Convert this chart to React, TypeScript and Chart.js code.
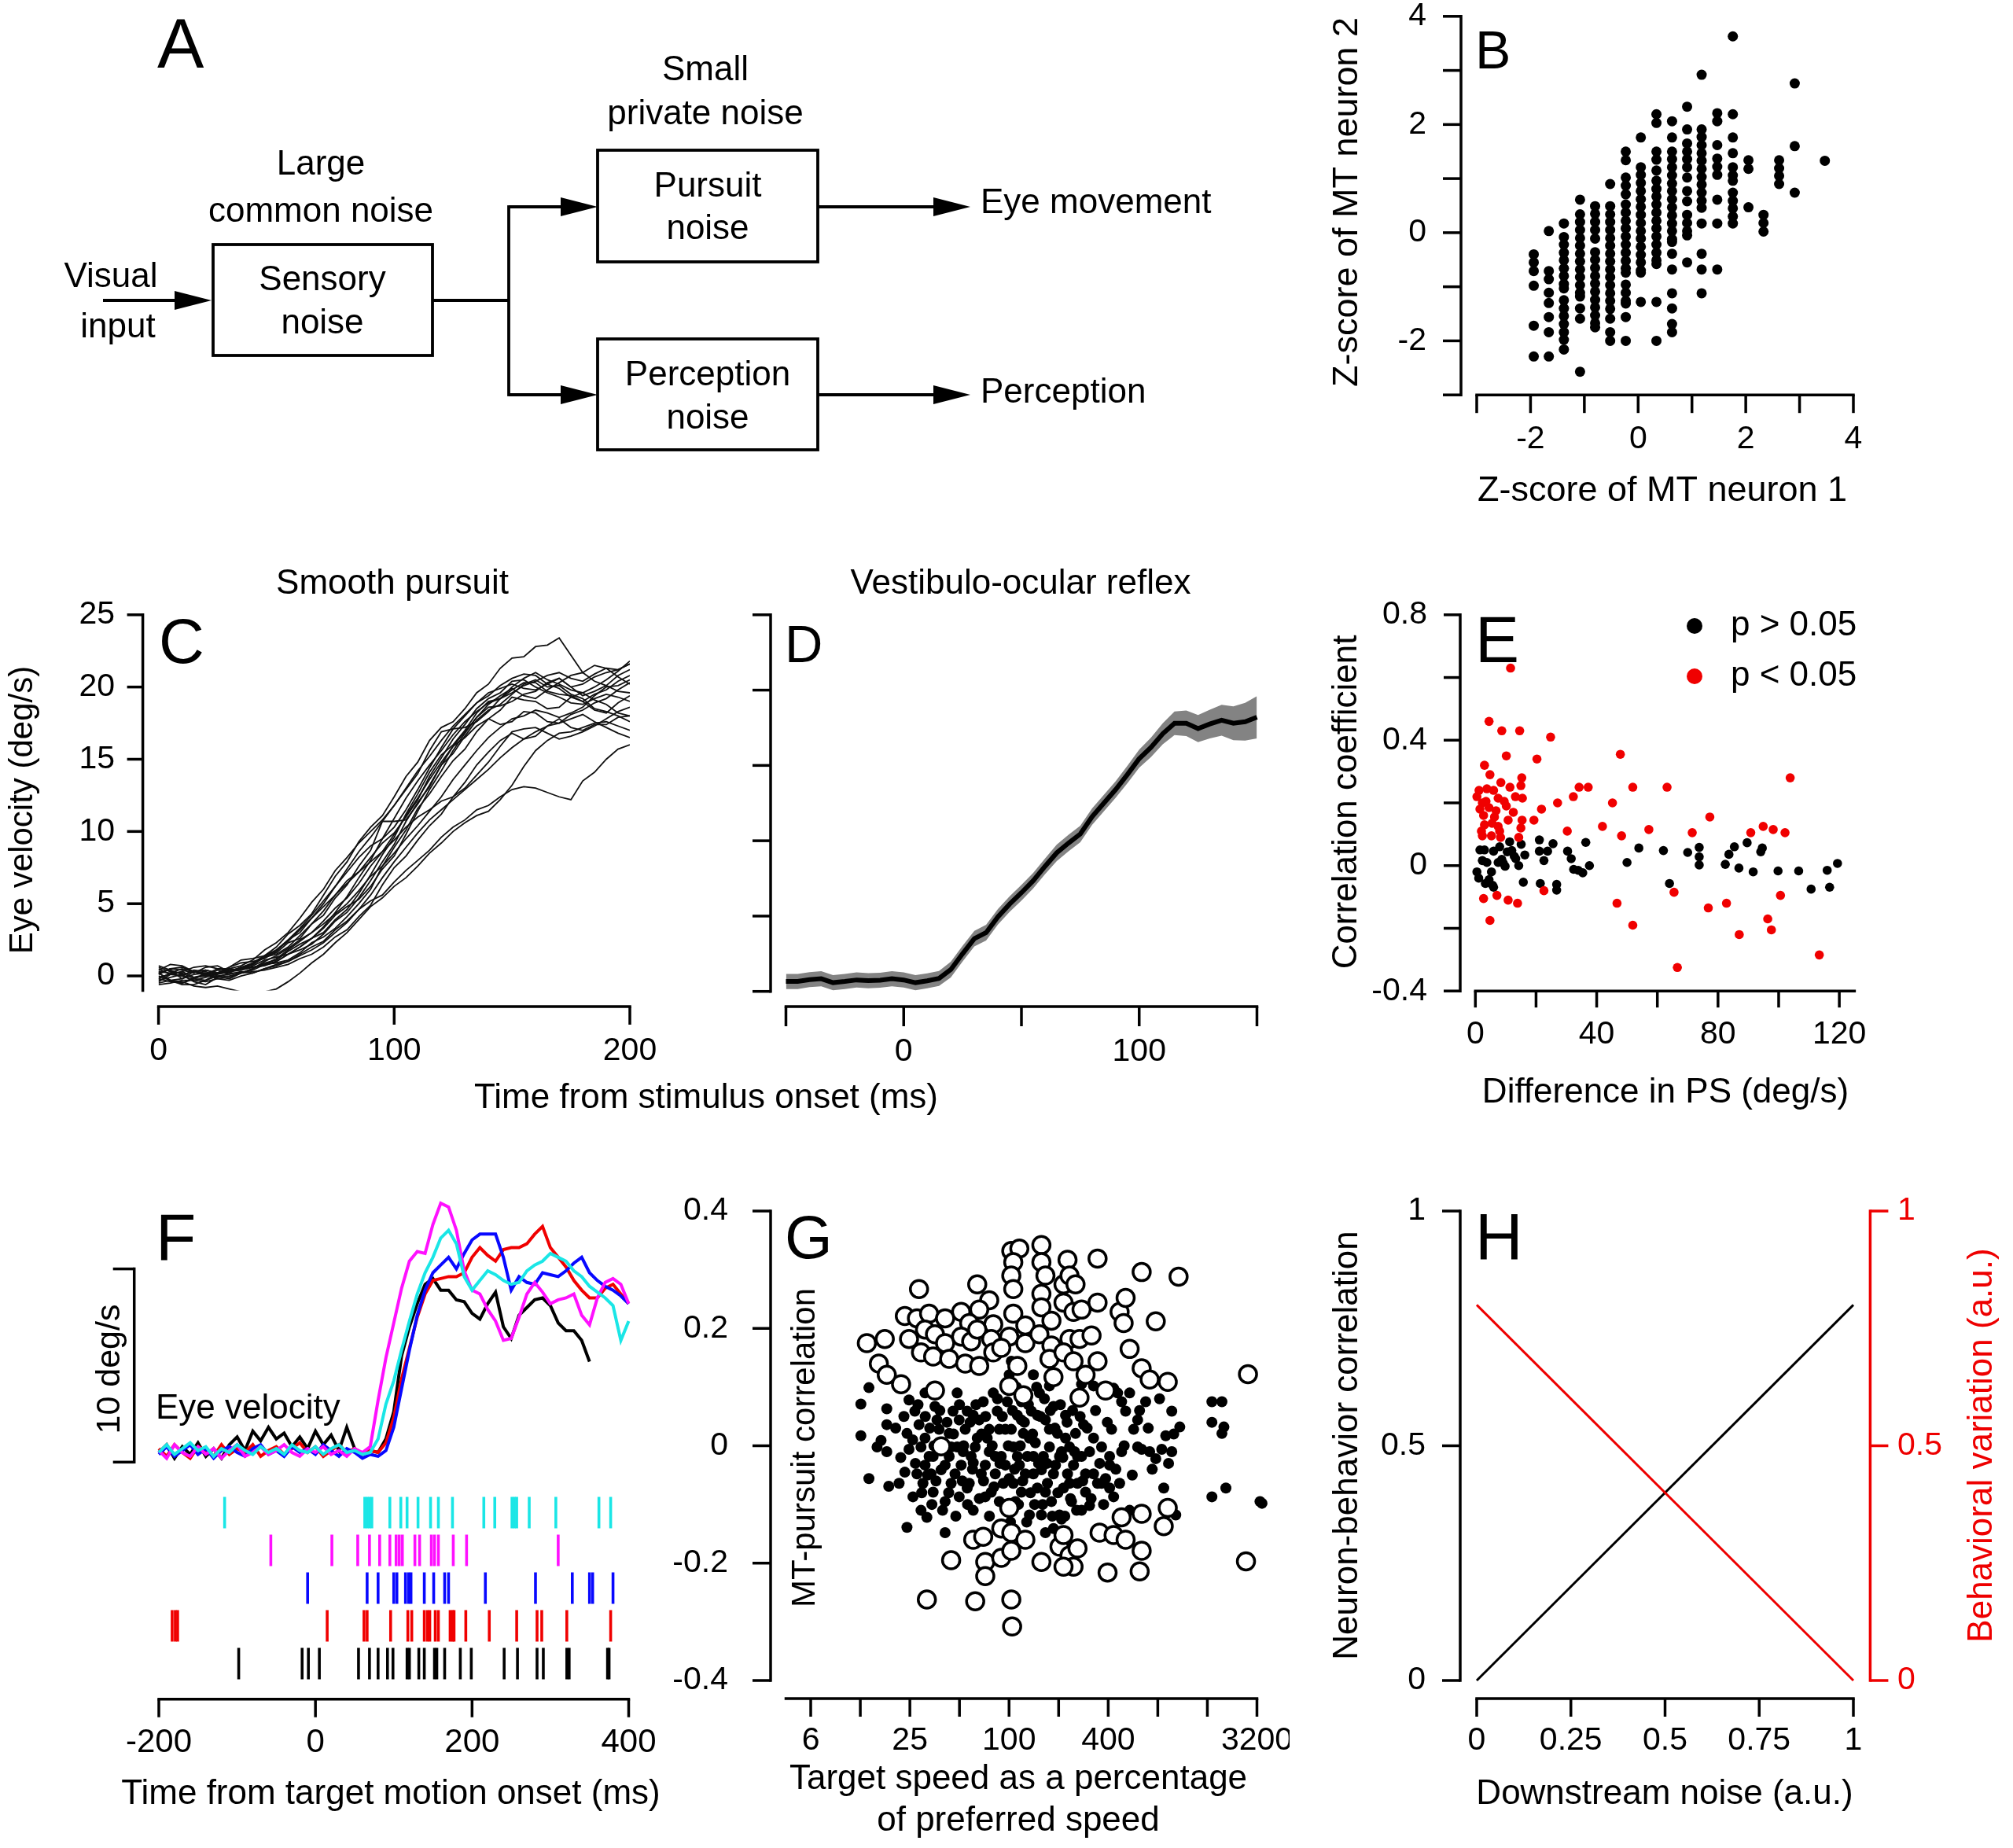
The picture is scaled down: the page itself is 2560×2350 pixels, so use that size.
import React, { useEffect, useRef } from 'react';
import { Chart, registerables } from 'chart.js';

Chart.register(...registerables);

const FONT = '"Liberation Sans", Arial, Helvetica, sans-serif';
const RED = '#f00000';
const CYAN = '#1ae6e6';
const MAGENTA = '#ff10ff';
const BLUE = '#0808ff';
const ROT = -Math.PI / 2;

// ---------------- Panel B: Z-scores (columns of quantised values) ----------------
const bColX = [-1.94, -1.66, -1.38, -1.08, -0.8, -0.52, -0.23, 0.05, 0.34, 0.63, 0.91, 1.18, 1.47, 1.76, 2.05, 2.33, 2.62, 2.91, 3.47];
const bColY = [
  [-0.4, -0.55, -0.71, -0.98, -1.72, -2.29],
  [0.03, -0.71, -0.86, -1.11, -1.3, -1.56, -1.84, -2.29],
  [0.17, -0.08, -0.22, -0.37, -0.51, -0.66, -0.8, -0.95, -1.03, -1.25, -1.4, -1.54, -1.69, -1.84, -1.98, -2.16],
  [0.61, 0.34, 0.2, 0.05, -0.1, -0.24, -0.39, -0.53, -0.68, -0.82, -0.97, -1.11, -1.18, -1.4, -1.59, -2.57],
  [0.49, 0.35, 0.2, 0.05, -0.11, -0.36, -0.5, -0.65, -0.8, -0.94, -1.09, -1.24, -1.38, -1.53, -1.67, -1.75],
  [0.9, 0.49, 0.34, 0.2, 0.05, -0.1, -0.24, -0.39, -0.53, -0.68, -0.82, -0.97, -1.12, -1.26, -1.41, -1.59, -1.84, -2.0],
  [1.5, 1.34, 1.02, 0.87, 0.71, 0.52, 0.37, 0.22, 0.08, -0.07, -0.22, -0.37, -0.52, -0.66, -0.74, -0.96, -1.11, -1.26, -1.31, -1.56, -2.0],
  [1.76, 1.21, 1.07, 0.92, 0.77, 0.62, 0.48, 0.33, 0.18, 0.03, -0.11, -0.26, -0.41, -0.55, -0.7, -0.74, -1.28],
  [2.19, 2.03, 1.5, 1.35, 1.15, 0.96, 0.81, 0.67, 0.52, 0.37, 0.22, 0.08, -0.07, -0.22, -0.37, -0.51, -0.58, -1.28, -2.0],
  [2.06, 1.76, 1.5, 1.36, 1.21, 1.06, 0.91, 0.77, 0.62, 0.47, 0.32, 0.17, 0.03, -0.12, -0.17, -0.39, -0.68, -1.12, -1.4, -1.69, -1.84],
  [2.33, 1.91, 1.65, 1.5, 1.36, 1.21, 1.02, 0.77, 0.58, 0.33, 0.18, 0.03, -0.05, -0.55],
  [2.92, 1.91, 1.77, 1.62, 1.47, 1.33, 1.18, 1.03, 0.89, 0.74, 0.59, 0.46, 0.17, -0.39, -0.68, -1.12],
  [2.21, 2.06, 1.62, 1.37, 1.22, 1.07, 0.61, 0.17, -0.68],
  [3.63, 2.19, 1.76, 1.47, 1.21, 1.06, 0.96, 0.74, 0.59, 0.45, 0.3, 0.17],
  [1.34, 1.18, 0.47],
  [0.33, 0.18, 0.02],
  [1.34, 1.19, 1.05, 0.9],
  [2.76, 1.6, 0.74],
  [1.33],
];
const bTicks = [-3, -2, -1, 0, 1, 2, 3, 4];
const bLabels = [-2, 0, 2, 4];

// ---------------- Panel C: smooth pursuit single trials ----------------
const cTime = [0, 5, 10, 15, 20, 25, 30, 35, 40, 45, 50, 55, 60, 65, 70, 75, 80, 85, 90, 95, 100, 105, 110, 115, 120, 125, 130, 135, 140, 145, 150, 155, 160, 165, 170, 175, 180, 185, 190, 195, 200];
const cTraces = [
  [0.3, 0.4, -0.2, 0.3, 0.4, 0.2, 0.6, 1.1, 1.2, 1.4, 2.0, 2.9, 3.5, 4.3, 5.6, 6.9, 7.9, 9.3, 10.3, 11.1, 12.4, 13.8, 14.8, 16.3, 17.2, 17.6, 18.5, 19.6, 20.2, 21.3, 22.0, 22.1, 22.8, 22.9, 23.4, 22.2, 21.0, 21.5, 21.3, 21.2, 21.6],
  [0.6, 0.3, 0.2, -0.2, -0.3, 0.2, 0.4, 0.5, 0.9, 1.4, 1.6, 2.3, 2.6, 3.6, 4.2, 5.4, 6.3, 7.6, 8.7, 10.7, 10.7, 10.8, 11.9, 13.2, 14.6, 15.9, 16.5, 17.3, 17.8, 17.4, 17.6, 18.3, 18.2, 17.6, 17.5, 18.1, 18.4, 18.9, 19.2, 19.8, 20.3],
  [-0.4, 0.1, 0.3, -0.1, 0.1, 0.5, 0.5, 0.4, 0.7, 1.1, 1.3, 1.5, 2.0, 2.6, 3.0, 3.9, 4.6, 5.7, 7.0, 8.4, 9.6, 11.2, 12.6, 14.1, 15.3, 16.0, 17.0, 18.2, 19.0, 19.2, 19.8, 20.3, 20.3, 19.7, 19.5, 19.4, 19.0, 19.5, 19.8, 20.4, 20.8],
  [0.2, -0.3, -0.5, -0.1, 0.0, 0.4, 0.3, 0.6, 0.6, 0.7, 1.0, 1.5, 1.8, 2.2, 2.9, 3.8, 4.4, 5.4, 6.6, 7.9, 9.1, 10.7, 12.0, 13.1, 14.6, 15.4, 16.6, 17.7, 18.4, 18.8, 19.5, 20.2, 20.5, 20.0, 20.1, 19.5, 19.2, 18.5, 18.3, 18.0, 17.6],
  [-0.3, -0.1, 0.1, -0.4, -0.6, -0.1, 0.2, 0.2, 0.5, 0.9, 1.1, 1.7, 2.2, 2.6, 3.3, 4.2, 4.8, 5.3, 6.2, 7.4, 8.3, 9.8, 11.4, 12.9, 14.2, 15.6, 16.8, 17.9, 18.6, 18.7, 19.0, 19.5, 19.7, 20.3, 20.6, 20.0, 20.2, 20.7, 21.0, 21.2, 21.6],
  [0.5, 0.1, 0.0, 0.4, 0.3, 0.0, -0.2, 0.2, 0.4, 0.8, 0.9, 1.1, 1.6, 2.3, 2.7, 3.3, 4.1, 5.0, 6.0, 7.6, 8.9, 10.1, 11.6, 12.6, 13.8, 14.9, 15.7, 16.9, 17.8, 18.4, 19.3, 19.1, 19.0, 18.5, 18.6, 19.3, 19.6, 19.1, 18.8, 18.2, 18.0],
  [-0.5, -0.3, -0.2, 0.1, 0.2, -0.1, 0.0, 0.2, 0.3, 0.4, 0.6, 0.8, 1.2, 1.5, 2.0, 2.7, 3.2, 4.1, 4.9, 6.3, 7.5, 8.3, 9.4, 10.4, 11.2, 12.4, 13.4, 14.6, 15.5, 16.3, 16.8, 16.4, 16.6, 17.3, 17.8, 17.2, 17.0, 17.4, 17.4, 17.9, 18.0],
  [0.2, -0.3, -0.6, -0.6, -0.3, 0.0, 0.1, 0.3, 0.2, 0.5, 0.8, 1.0, 1.5, 2.0, 2.4, 3.2, 3.8, 4.6, 5.2, 5.6, 6.5, 7.3, 8.0, 8.7, 9.6, 10.3, 10.8, 11.5, 11.8, 12.4, 12.9, 13.1, 13.0, 12.7, 12.4, 12.2, 13.5, 14.1, 15.0, 15.7, 16.0],
  [0.1, 0.5, 0.4, 0.2, 0.6, 0.7, 0.3, 0.5, 0.8, 1.3, 1.5, 2.0, 2.8, 3.6, 4.5, 5.6, 6.6, 7.2, 8.2, 9.2, 9.9, 11.0, 12.2, 13.8, 15.1, 16.4, 17.4, 18.5, 19.2, 19.6, 20.4, 20.5, 20.0, 19.6, 19.3, 18.9, 18.8, 19.2, 19.5, 19.3, 19.0],
  [-0.2, 0.2, 0.5, 0.3, 0.0, 0.2, 0.6, 0.9, 1.0, 1.2, 1.7, 2.5, 3.0, 4.0, 5.0, 6.2, 7.2, 8.2, 9.0, 9.5, 10.3, 11.5, 12.9, 14.4, 15.8, 17.1, 18.0, 18.9, 19.4, 20.1, 20.6, 20.9, 20.8, 20.2, 19.9, 19.3, 19.0, 18.4, 18.2, 18.9, 19.4],
  [0.4, 0.8, 0.7, 0.3, 0.2, 0.2, 0.5, 0.7, 1.1, 1.8, 2.3, 3.0, 4.0, 5.1, 6.0, 7.3, 8.2, 9.2, 10.0, 10.8, 11.8, 12.9, 14.0, 15.6, 16.9, 17.1, 17.2, 17.6, 18.3, 19.2, 20.0, 20.6, 21.0, 20.5, 20.2, 19.8, 19.6, 20.0, 20.5, 21.1, 21.8],
  [-0.6, -0.5, -0.3, -0.3, -0.1, 0.2, 0.3, 0.4, 0.6, 0.8, 1.2, 1.8, 2.4, 3.0, 3.8, 4.7, 5.4, 6.4, 7.6, 8.6, 9.8, 11.1, 12.3, 13.6, 14.8, 15.9, 16.9, 17.9, 18.8, 19.4, 19.9, 19.4, 19.2, 19.8, 20.3, 20.8, 21.0, 20.4, 20.1, 19.7, 19.6],
  [0.0, -0.3, -0.4, -0.7, -0.8, -0.7, -0.9, -1.1, -1.2, -1.1, -0.9, -0.4, 0.2, 0.9, 1.5, 2.3, 3.0, 3.9, 4.8, 5.4, 6.2, 6.8, 7.6, 8.5, 9.2, 10.0, 10.6, 11.1, 11.4, 12.2, 13.2, 14.5, 15.6, 16.3, 16.8, 16.9, 17.2, 17.5, 17.6, 17.3, 17.0],
  [0.3, 0.2, 0.0, -0.3, -0.4, -0.2, -0.1, 0.2, 0.5, 1.0, 1.4, 1.9, 2.5, 3.0, 3.6, 4.3, 5.0, 5.9, 6.9, 7.6, 8.5, 9.5, 10.4, 11.4, 12.4, 13.6, 14.6, 15.6, 16.5, 17.2, 17.8, 18.0, 18.4, 18.2, 17.9, 18.2, 18.6, 19.4, 20.0, 20.1, 20.5],
  [0.7, 0.4, 0.1, 0.3, 0.4, 0.2, 0.2, 0.6, 0.9, 1.4, 1.8, 2.4, 3.2, 4.0, 4.8, 5.6, 6.4, 7.2, 7.9, 8.6, 9.4, 10.3, 11.0, 11.5, 12.1, 12.4, 13.0, 13.9, 14.8, 15.9, 16.9, 17.1, 17.2, 16.8, 16.4, 16.6, 16.9, 17.3, 17.8, 18.3, 18.6],
  [-0.1, 0.1, 0.3, 0.6, 0.7, 0.5, 0.4, 0.5, 0.6, 0.8, 1.0, 1.5, 2.0, 2.6, 3.4, 4.4, 5.5, 6.8, 8.0, 9.5, 10.9, 12.3, 13.5, 14.6, 15.6, 16.7, 17.6, 18.3, 18.9, 19.2, 19.6, 20.1, 20.4, 20.8, 21.0, 20.6, 20.4, 20.9, 21.3, 20.7, 20.2],
  [0.2, 0.5, 0.6, 0.3, 0.1, 0.1, 0.3, 0.6, 0.8, 1.3, 1.8, 2.5, 3.3, 4.2, 5.2, 6.2, 7.4, 8.6, 9.6, 10.7, 11.8, 13.0, 14.2, 15.2, 16.3, 17.3, 18.1, 18.9, 19.6, 19.9, 20.2, 19.9, 19.8, 20.2, 20.6, 20.0, 19.4, 19.7, 20.1, 20.8, 21.2],
  [-0.2, -0.4, -0.5, -0.2, 0.1, -0.2, -0.3, 0.0, 0.2, 0.5, 0.7, 1.0, 1.4, 1.8, 2.3, 3.0, 3.7, 4.6, 5.6, 6.8, 7.9, 8.9, 9.9, 10.8, 11.5, 12.2, 12.9, 13.6, 14.3, 15.1, 15.8, 16.4, 16.9, 17.3, 17.5, 17.8, 18.1, 17.6, 17.2, 16.8, 16.5],
];
const cYTicks = [0, 5, 10, 15, 20, 25];
const cXTicks = [0, 100, 200];

// ---------------- Panel D: VOR mean +/- SEM ----------------
const dTime = [-50, -45, -40, -35, -30, -25, -20, -15, -10, -5, 0, 5, 10, 15, 20, 25, 30, 35, 40, 45, 50, 55, 60, 65, 70, 75, 80, 85, 90, 95, 100, 105, 110, 115, 120, 125, 130, 135, 140, 145, 150];
const dMean = [0.66, 0.66, 0.78, 0.84, 0.58, 0.66, 0.76, 0.71, 0.74, 0.84, 0.76, 0.58, 0.7, 0.86, 1.45, 2.5, 3.5, 3.9, 4.95, 5.8, 6.55, 7.35, 8.3, 9.2, 9.85, 10.45, 11.6, 12.5, 13.4, 14.4, 15.45, 16.2, 17.1, 17.8, 17.8, 17.45, 17.75, 18.0, 17.8, 17.9, 18.2];
const dSem = [0.5, 0.5, 0.5, 0.5, 0.5, 0.5, 0.5, 0.5, 0.5, 0.5, 0.5, 0.5, 0.5, 0.5, 0.52, 0.52, 0.52, 0.52, 0.52, 0.52, 0.52, 0.52, 0.52, 0.55, 0.55, 0.55, 0.55, 0.55, 0.55, 0.58, 0.6, 0.65, 0.7, 0.78, 0.85, 0.9, 0.95, 1.02, 1.12, 1.25, 1.4];
const dYTicks = [0, 5, 10, 15, 20, 25];
const dXTicks = [-50, 0, 50, 100, 150];

// ---------------- Panel E: correlation vs difference in PS ----------------
const eRed: [number, number][] = [
  [11.6, 0.63], [4.5, 0.46], [8.7, 0.43], [14.6, 0.43], [24.8, 0.41], [10.2, 0.35], [20.3, 0.34], [47.8, 0.355], [3.0, 0.32], [4.8, 0.29],
  [15.3, 0.28], [103.8, 0.28], [8.4, 0.265], [11.4, 0.25], [15.0, 0.255], [3.8, 0.245], [6.0, 0.24], [34.2, 0.25], [37.2, 0.25], [51.9, 0.25],
  [63.2, 0.25], [32.3, 0.22], [0.5, 0.22], [2.3, 0.2], [7.5, 0.215], [13.2, 0.22], [15.5, 0.215], [27.1, 0.2], [45.2, 0.2], [1.5, 0.18],
  [4.5, 0.185], [10.2, 0.19], [21.8, 0.18], [2.7, 0.16], [6.3, 0.155], [10.8, 0.145], [15.4, 0.145], [19.3, 0.145], [77.3, 0.155], [3.0, 0.13],
  [7.5, 0.125], [15.0, 0.12], [41.9, 0.125], [57.2, 0.115], [30.3, 0.11], [71.5, 0.105], [90.8, 0.105], [94.9, 0.125], [98.2, 0.115], [102.1, 0.105],
  [2.3, 0.095], [5.3, 0.095], [8.3, 0.09], [14.3, 0.09], [48.2, 0.095], [1.2, 0.24], [3.5, 0.205], [6.8, 0.175], [9.5, 0.205], [12.5, 0.17],
  [5.5, 0.135], [8.0, 0.11], [2.0, 0.11],
  [2.7, -0.105], [7.1, -0.095], [10.8, -0.11], [13.9, -0.12], [4.8, -0.175], [22.6, -0.08], [46.7, -0.12], [51.9, -0.19], [65.5, -0.085], [66.6, -0.325],
  [76.8, -0.135], [82.8, -0.12], [87.0, -0.22], [96.4, -0.17], [97.6, -0.205], [100.6, -0.095], [113.4, -0.285],
];
const eBlack: [number, number][] = [
  [0.5, -0.02], [1.1, -0.04], [2.3, 0.016], [3.0, 0.05], [4.5, -0.045], [5.7, -0.063], [5.3, -0.02], [3.8, 0.01], [6.0, 0.046], [7.5, 0.01],
  [8.7, 0.02], [9.8, -0.002], [10.5, 0.044], [11.3, 0.076], [12.0, 0.048], [13.3, 0.022], [14.3, 0.0], [15.1, 0.068], [16.3, 0.034], [15.8, -0.053],
  [21.1, 0.082], [21.1, 0.046], [22.6, 0.016], [23.8, 0.046], [25.6, 0.07], [21.4, -0.057], [26.8, -0.06], [26.8, -0.078], [30.4, 0.046], [31.6, 0.022],
  [32.4, -0.012], [33.9, -0.015], [35.4, -0.023], [36.4, 0.074], [37.6, 0.0], [50.0, 0.01], [53.9, 0.056], [62.0, 0.048], [64.0, -0.057], [70.0, 0.042],
  [73.8, 0.058], [73.8, 0.028], [73.8, 0.002], [82.4, 0.004], [83.6, 0.036], [85.4, 0.06], [86.9, -0.008], [89.6, 0.073], [91.6, -0.02], [94.1, 0.044],
  [94.6, 0.056], [99.8, -0.017], [106.6, -0.017], [110.7, -0.075], [116.0, -0.015], [116.8, -0.069], [119.4, 0.007], [3.3, -0.057], [6.0, -0.069], [1.5, 0.05],
  [8.0, 0.06], [12.8, 0.03], [9.2, 0.008],
];
const eYTicks = [-0.4, -0.2, 0, 0.2, 0.4, 0.6, 0.8];
const eYLabels: [number, string][] = [[0.8, '0.8'], [0.4, '0.4'], [0, '0'], [-0.4, '-0.4']];
const eXTicks = [0, 20, 40, 60, 80, 100, 120];
const eXLabels = [0, 40, 80, 120];

// ---------------- Panel F: eye velocity and spike rasters ----------------
const fTime = [-200, -190, -180, -170, -160, -150, -140, -130, -120, -110, -100, -90, -80, -70, -60, -50, -40, -30, -20, -10, 0, 10, 20, 30, 40, 50, 60, 70, 80, 90, 100, 110, 120, 130, 140, 150, 160, 170, 180, 190, 200, 210, 220, 230, 240, 250, 260, 270, 280, 290, 300, 310, 320, 330, 340, 350, 360, 370, 380, 390, 400];
const fBlack = [0.5, 0.9, 0.2, 0.8, 0.4, 1.0, 0.3, 0.7, 0.2, 0.9, 1.3, 0.6, 1.6, 1.1, 1.8, 1.2, 1.5, 0.8, 1.3, 0.7, 1.6, 0.9, 1.4, 0.6, 1.8, 0.7, 0.4, 0.6,
  0.5, 1.2, 2.6, 5.5, 7.0, 8.2, 9.2, 9.5, 8.9, 8.9, 8.4, 8.3, 7.7, 7.4, 8.2, 8.8, 7.0, 6.4, 7.6, 8.0, 8.4, 8.5, 8.1, 7.2, 6.8, 6.8, 6.3, 5.2, null, null, null, null, null];
const fRed = [0.7, 0.3, 0.9, 0.5, 0.2, 0.8, 0.6, 0.3, 0.9, 0.4, 0.7, 0.5, 0.9, 0.3, 0.6, 0.8, 0.4, 0.7, 1.0, 0.5, 0.8, 0.3, 0.6, 0.9, 0.5, 0.7, 0.4, 0.6,
  0.5, 1.0, 2.3, 4.3, 5.9, 7.5, 8.7, 9.4, 9.5, 9.6, 9.6, 9.8, 10.6, 11.1, 10.7, 10.4, 11.0, 11.1, 11.1, 11.3, 11.8, 12.2, 11.1, 10.6, 10.1, 9.4, 8.9, 8.5, 8.5, 9.0, 9.2, 8.7, 8.2];
const fBlue = [0.4, 0.8, 0.3, 0.6, 0.9, 0.4, 0.7, 0.2, 0.6, 0.8, 0.5, 0.3, 0.7, 0.9, 0.4, 0.6, 0.3, 0.8, 0.5, 0.7, 0.4, 0.9, 0.6, 0.3, 0.7, 0.5, 0.2, 0.4,
  0.3, 0.6, 1.8, 3.8, 5.8, 7.6, 8.9, 9.8, 10.2, 10.6, 10.0, 10.8, 11.5, 11.8, 11.8, 11.8, 10.6, 8.9, 9.6, 9.3, 9.2, 9.8, 9.7, 9.6, 9.9, 10.3, 10.6, 9.8, 9.4, 9.1, 8.9, 8.6, 8.2];
const fMagenta = [0.6, 0.2, 0.9, 0.5, 0.3, 0.8, 0.4, 0.7, 0.2, 0.6, 0.9, 0.3, 0.5, 0.8, 0.4, 0.6, 0.9, 0.5, 0.3, 0.7, 0.5, 0.8, 0.4, 0.6, 0.3, 0.7, 0.5,
  0.8, 3.2, 5.4, 7.2, 9.0, 10.4, 10.9, 10.8, 12.3, 13.4, 13.2, 12.0, 9.9, 8.9, 8.7, 7.9, 7.3, 6.3, 6.4, 7.5, 8.7, 9.3, 8.8, 8.2, 8.4, 8.5, 8.7, 7.6, 7.1, 8.5, 9.3, 9.5, 9.2, 8.2];
const fCyan = [0.5, 0.9, 0.4, 0.7, 1.0, 0.6, 0.8, 0.3, 0.7, 0.5, 0.9, 0.6, 0.4, 0.8, 0.5, 0.7, 0.4, 0.9, 0.6, 0.5, 0.8, 0.4, 0.7, 0.9, 0.5, 0.6, 0.4, 0.5,
  1.2, 3.0, 4.2, 5.8, 7.3, 8.7, 9.8, 10.6, 11.6, 12.0, 11.3, 9.6, 8.9, 9.4, 9.9, 9.7, 9.4, 9.2, 9.3, 9.9, 10.2, 10.4, 10.8, 10.6, 10.4, 9.9, 9.6, 9.1, 8.8, 8.5, 8.1, 6.3, 7.3];
const fSpikesCyan = [-116, 63, 66, 69, 72, 95, 109, 117, 131, 147, 157, 175, 215, 229, 251, 254, 257, 273, 307, 362, 377];
const fSpikesMagenta = [-57, 21, 54, 69, 82, 95, 103, 107, 111, 127, 133, 148, 152, 157, 176, 193, 310];
const fSpikesBlue = [-10, 66, 80, 100, 104, 115, 119, 122, 139, 151, 165, 170, 217, 281, 328, 350, 354, 380];
const fSpikesRed = [-183, -179, -176, 15, 62, 66, 96, 118, 123, 139, 143, 146, 153, 157, 172, 175, 177, 192, 222, 257, 283, 289, 321, 377];
const fSpikesBlack = [-98, -17, -9, 5, 55, 69, 80, 92, 99, 117, 120, 132, 139, 152, 155, 165, 185, 199, 241, 258, 283, 291, 321, 324, 373, 375];
const fXTicks = [-200, 0, 200, 400];

// ---------------- Panel G: MT-pursuit correlation vs target speed ----------------
const gOpen: [number, number][] = [
  [28.4, 0.267], [64.1, 0.275], [103.2, 0.332], [115.5, 0.336], [157.2, 0.342], [157.2, 0.313], [226.5, 0.317], [344.7, 0.319], [638.6, 0.296], [1069.9, 0.288],
  [106.1, 0.313], [103.2, 0.29], [106.1, 0.267], [157.2, 0.259], [166.3, 0.29], [214.1, 0.275], [232.9, 0.29], [253.3, 0.275], [75.8, 0.248], [65.9, 0.232],
  [51.2, 0.228], [23.3, 0.221], [27.6, 0.217], [32.7, 0.225], [40.9, 0.217], [57.3, 0.209], [80.2, 0.207], [106.1, 0.225], [125.6, 0.205], [157.2, 0.236],
  [180.9, 0.213], [214.1, 0.244], [246.3, 0.228], [275.6, 0.232], [344.7, 0.244], [469.1, 0.228], [510.2, 0.252], [496.2, 0.209], [777.7, 0.212], [13.7, 0.175],
  [17.6, 0.182], [24.7, 0.182], [30.9, 0.198], [35.5, 0.19], [40.9, 0.175], [51.2, 0.186], [58.9, 0.178], [64.1, 0.198], [78.0, 0.182], [100.3, 0.186],
  [125.6, 0.175], [152.9, 0.19], [180.9, 0.171], [232.9, 0.182], [267.9, 0.182], [316.9, 0.188], [344.7, 0.144], [539.7, 0.165], [16.2, 0.14], [18.1, 0.121],
  [22.1, 0.105], [29.2, 0.159], [34.6, 0.152], [43.3, 0.148], [54.2, 0.14], [65.9, 0.136], [80.2, 0.159], [89.7, 0.167], [112.3, 0.136], [175.9, 0.148],
  [214.1, 0.159], [246.3, 0.144], [291.5, 0.121], [385.6, 0.094], [638.6, 0.132], [714.4, 0.113], [919.6, 0.109], [2823, 0.122], [35.5, 0.094], [100.3, 0.102],
  [122.1, 0.086], [186.1, 0.117], [267.9, 0.082], [38.7, -0.001],
  [100.3, -0.106], [89.7, -0.141], [103.2, -0.148], [125.6, -0.16], [60.6, -0.16], [69.7, -0.155], [71.7, -0.198], [71.7, -0.222], [89.7, -0.191], [103.2, -0.179],
  [44.5, -0.195], [31.7, -0.262], [62.3, -0.265], [103.2, -0.262], [104.4, -0.308], [157.2, -0.198], [202.4, -0.172], [214.1, -0.152], [232.9, -0.187], [246.3, -0.206],
  [214.1, -0.206], [260.5, -0.175], [354.5, -0.148], [431.3, -0.152], [482.4, -0.122], [638.6, -0.116], [638.6, -0.179], [620.9, -0.214], [396.5, -0.216], [869.5, -0.137],
  [919.6, -0.106], [2745, -0.197], [510.2, -0.16],
];
const gFilled: [number, number][] = [
  [12.6, 0.071], [12.6, 0.017], [14.1, 0.099], [14.1, -0.056], [15.8, -0.002], [16.7, 0.009], [18.1, 0.063], [18.1, 0.036], [18.6, -0.069], [18.1, -0.01],
  [23.3, -0.045], [24.0, 0.021], [24.7, -0.006], [26.1, -0.087], [24.0, -0.139], [24.7, 0.078], [26.8, 0.059], [28.4, 0.036], [29.2, -0.11], [30.0, -0.064],
  [31.7, -0.122], [30.9, 0.013], [32.7, -0.018], [33.6, -0.048], [34.6, -0.079], [35.5, 0.067], [36.5, 0.044], [38.7, -0.041], [40.9, -0.148], [40.9, -0.095],
  [43.3, 0.021], [43.3, -0.018], [44.5, -0.064], [45.7, 0.059], [48.4, -0.002], [49.8, -0.087], [51.2, -0.033], [54.2, 0.028], [55.7, -0.072], [58.9, -0.018],
  [60.6, 0.052], [60.6, -0.11], [64.1, 0.013], [67.8, -0.048], [69.7, 0.075], [71.7, -0.087], [75.8, -0.01], [75.8, 0.028], [80.2, 0.09], [82.5, -0.048],
  [84.8, 0.059], [87.3, -0.095], [89.7, -0.018], [94.9, 0.028], [97.6, 0.075], [100.3, -0.056], [100.3, 0.121], [103.2, 0.144], [106.1, -0.002], [109.2, -0.095],
  [112.3, 0.052], [115.5, -0.033], [118.8, -0.079], [122.1, 0.021], [125.6, 0.09], [129.2, -0.018], [132.9, -0.118], [136.6, 0.059], [140.5, -0.048], [144.5, 0.005],
  [148.6, -0.072], [152.9, 0.09], [157.2, -0.118], [161.7, -0.018], [166.3, 0.044], [171.0, -0.064], [175.9, -0.002], [180.9, -0.095], [186.1, 0.067], [191.4, -0.033],
  [196.8, 0.021], [202.4, -0.118], [208.2, -0.01], [214.1, -0.072], [220.2, 0.052], [226.5, -0.048], [232.9, -0.002], [239.5, -0.095], [246.3, -0.033], [253.3, 0.021],
  [260.5, -0.064], [275.6, -0.018], [283.4, 0.036], [291.5, -0.079], [308.2, -0.01], [325.9, -0.048], [344.7, -0.064], [364.6, -0.002], [385.6, -0.056], [407.8, -0.072],
  [419.4, 0.028], [431.3, -0.087], [456.1, 0.09], [469.1, -0.064], [482.4, 0.075], [510.2, 0.059], [539.7, 0.09], [570.8, 0.028], [603.7, 0.044], [603.7, -0.002],
  [638.6, -0.006], [675.4, 0.075], [714.4, -0.01], [777.7, -0.022], [845.5, -0.006], [869.5, -0.072], [894.2, 0.017], [972.6, 0.059], [972.6, -0.01], [1028.6, -0.118],
  [1087.9, 0.032], [1705, 0.075], [1705, 0.04], [1705, -0.087], [1961, 0.075], [1961, 0.021], [2016, 0.032], [2073, -0.072], [3340, -0.095], [3434, -0.098],
  [118.8, 0.075], [140.5, 0.121], [175.9, 0.102], [275.6, 0.105], [325.9, 0.102], [431.3, 0.098], [482.4, -0.01], [407.8, -0.033], [539.7, -0.11], [60.6, -0.029],
  [48.4, 0.09], [30.9, 0.09], [37.6, 0.094], [166.3, -0.148], [186.1, -0.141], [208.2, -0.125], [275.6, -0.11], [308.2, -0.102],
  [34.6, -0.018], [37.6, 0.028], [40.9, -0.033], [44.5, -0.002], [47.0, -0.048], [49.8, 0.044], [52.7, -0.01], [55.7, 0.059], [57.3, -0.064], [62.3, -0.002],
  [65.9, 0.044], [71.7, -0.033], [73.7, 0.013], [78.0, -0.079], [82.5, -0.018], [87.3, 0.028], [92.3, -0.064], [94.9, -0.033], [103.2, 0.028], [106.1, -0.064],
  [112.3, -0.018], [118.8, 0.044], [125.6, -0.048], [132.9, 0.013], [140.5, -0.018], [148.6, 0.052], [157.2, -0.041], [166.3, -0.079], [175.9, 0.028], [186.1, -0.048],
  [202.4, -0.018], [220.2, 0.013], [232.9, -0.064], [260.5, -0.018], [291.5, -0.048], [325.9, 0.013], [364.6, -0.064], [407.8, -0.018], [27.6, -0.048], [30.9, -0.033],
  [29.2, -0.002], [21.5, -0.064],
  [20.5, 0.03], [22.0, -0.02], [23.0, 0.05], [26.0, 0.01], [27.0, -0.03], [28.0, 0.07], [29.5, -0.08], [31.0, 0.05], [32.0, -0.05], [33.0, 0.03],
  [34.0, -0.1], [35.0, 0.0], [36.0, -0.06], [38.0, 0.06], [39.5, -0.11], [42.0, 0.04], [43.0, -0.08], [46.0, 0.02], [47.5, -0.12], [50.0, 0.07],
  [52.0, -0.06], [53.0, 0.0], [56.0, -0.1], [58.0, 0.04], [60.0, -0.04], [63.0, 0.07], [66.0, -0.09], [68.0, 0.02], [70.0, -0.06], [72.0, 0.05],
  [76.0, -0.12], [79.0, 0.0], [81.0, -0.07], [85.0, 0.08], [88.0, -0.03], [91.0, 0.05], [96.0, -0.1], [99.0, 0.0], [102.0, -0.13], [105.0, 0.06],
  [108.0, -0.04], [111.0, 0.1], [114.0, -0.1], [117.0, 0.0], [121.0, -0.06], [124.0, 0.04], [128.0, -0.13], [131.0, 0.07], [135.0, -0.08], [139.0, 0.02],
  [143.0, -0.1], [147.0, 0.1], [151.0, -0.03], [155.0, 0.05], [160.0, -0.1], [164.0, 0.08], [170.0, -0.03], [178.0, 0.06], [183.0, -0.12], [190.0, 0.03],
  [198.0, -0.08], [205.0, 0.07], [212.0, -0.02], [218.0, -0.12], [225.0, 0.04], [236.0, -0.09], [243.0, 0.06], [250.0, -0.01], [257.0, -0.11], [270.0, 0.05],
  [280.0, -0.06], [298.0, 0.03], [315.0, -0.09], [335.0, 0.06], [355.0, -0.03], [375.0, -0.1], [395.0, 0.04], [445.0, -0.04], [500.0, 0.0], [560.0, -0.05],
  [620.0, 0.06], [700.0, 0.03], [740.0, -0.04], [820.0, 0.08], [930.0, -0.03], [1000.0, 0.02],
];
const gXTicks = [6.25, 12.5, 25, 50, 100, 200, 400, 800, 1600, 3200];
const gXLabels: [number, string][] = [[6.25, '6'], [25, '25'], [100, '100'], [400, '400'], [3200, '3200']];
const gYTicks = [-0.4, -0.2, 0, 0.2, 0.4];

// ---------------- Panel H: model ----------------
const hNoise = [0, 1];
const hCorrelation = [0, 0.8];
const hVariation = [0.8, 0];
const hXTicks = [0, 0.25, 0.5, 0.75, 1];
const hYTicks = [0, 0.5, 1];

// ================= generic drawing helpers =================
type Box = { x: number; y: number; w: number; h: number };
type Area = { l: number; t: number; r: number; b: number };
type Txt = { t: string; x: number; y: number; size: number; align?: CanvasTextAlign; base?: CanvasTextBaseline; rot?: number; color?: string };
type Ax = { id: string; side: 'left' | 'right' | 'bottom'; at: number; from: number; to: number; ticks: number[]; labels: [number, string][]; len: number; labelAt: number; color?: string; size?: number };
type Spec = {
  box: Box; area: Area; scales: Record<string, any>; datasets: () => any[]; axes: Ax[]; texts: Txt[];
  draw?: (ctx: CanvasRenderingContext2D, chart: any, ox: number, oy: number) => void;
};

const LW = 3.5;

function drawText(ctx: CanvasRenderingContext2D, t: Txt, ox: number, oy: number) {
  ctx.save();
  ctx.font = `${t.size}px ${FONT}`;
  ctx.fillStyle = t.color || '#000';
  ctx.textAlign = t.align || 'center';
  ctx.textBaseline = t.base || 'middle';
  ctx.translate(t.x - ox, t.y - oy);
  if (t.rot) ctx.rotate(t.rot);
  ctx.fillText(t.t, 0, 0);
  ctx.restore();
}

function drawAxis(ctx: CanvasRenderingContext2D, chart: any, a: Ax, ox: number, oy: number) {
  const s = chart.scales[a.id];
  const col = a.color || '#000';
  ctx.save();
  ctx.strokeStyle = col;
  ctx.fillStyle = col;
  ctx.lineWidth = LW;
  ctx.lineCap = 'butt';
  ctx.font = `${a.size || 41}px ${FONT}`;
  if (a.side === 'bottom') {
    const y = a.at - oy;
    const x1 = s.getPixelForValue(a.from);
    const x2 = s.getPixelForValue(a.to);
    ctx.beginPath(); ctx.moveTo(x1 - LW / 2, y); ctx.lineTo(x2 + LW / 2, y); ctx.stroke();
    for (const v of a.ticks) {
      const x = s.getPixelForValue(v);
      ctx.beginPath(); ctx.moveTo(x, y); ctx.lineTo(x, y + a.len); ctx.stroke();
    }
    ctx.textAlign = 'center'; ctx.textBaseline = 'middle';
    for (const [v, t] of a.labels) ctx.fillText(t, s.getPixelForValue(v), a.labelAt - oy);
  } else {
    const x = a.at - ox;
    const y1 = s.getPixelForValue(a.from);
    const y2 = s.getPixelForValue(a.to);
    ctx.beginPath(); ctx.moveTo(x, y1 + LW / 2); ctx.lineTo(x, y2 - LW / 2); ctx.stroke();
    const dir = a.side === 'left' ? -1 : 1;
    for (const v of a.ticks) {
      const y = s.getPixelForValue(v);
      ctx.beginPath(); ctx.moveTo(x, y); ctx.lineTo(x + dir * a.len, y); ctx.stroke();
    }
    ctx.textAlign = a.side === 'left' ? 'right' : 'left';
    ctx.textBaseline = 'middle';
    for (const [v, t] of a.labels) ctx.fillText(t, a.labelAt - ox, s.getPixelForValue(v));
  }
  ctx.restore();
}

function Panel({ spec }: { spec: Spec }) {
  const ref = useRef<HTMLCanvasElement>(null);
  useEffect(() => {
    const { box, area } = spec;
    const ox = box.x, oy = box.y;
    const scales: any = {};
    for (const [id, s] of Object.entries(spec.scales)) scales[id] = { display: false, bounds: 'data', ...s };
    const deco = {
      id: 'deco',
      afterDraw(chart: any) {
        const ctx = chart.ctx as CanvasRenderingContext2D;
        for (const a of spec.axes) drawAxis(ctx, chart, a, ox, oy);
        if (spec.draw) spec.draw(ctx, chart, ox, oy);
        for (const t of spec.texts) drawText(ctx, t, ox, oy);
      },
    };
    const chart = new Chart(ref.current as HTMLCanvasElement, {
      type: 'scatter',
      data: { datasets: spec.datasets() },
      options: {
        responsive: false,
        maintainAspectRatio: false,
        animation: false,
        events: [],
        layout: { padding: { left: area.l - ox, top: area.t - oy, right: ox + box.w - area.r, bottom: oy + box.h - area.b } },
        plugins: { legend: { display: false }, tooltip: { enabled: false } },
        scales,
      } as any,
      plugins: [deco],
    } as any);
    return () => chart.destroy();
  }, []);
  const { box } = spec;
  return (
    <canvas
      ref={ref}
      width={box.w}
      height={box.h}
      style={{ position: 'absolute', left: box.x, top: box.y, width: box.w, height: box.h }}
    />
  );
}

const lbl = (vals: number[]): [number, string][] => vals.map((v) => [v, String(v)]);
const pts = (xs: number[], ys: (number | null)[]) => xs.map((x, i) => ({ x, y: ys[i] }));

// ================= Panel A: block diagram =================
function drawDiagram(ctx: CanvasRenderingContext2D) {
  ctx.save();
  ctx.strokeStyle = '#000';
  ctx.fillStyle = '#000';
  ctx.lineWidth = 3.8;
  const boxes = [[271, 311, 550, 452], [760, 191, 1040, 333], [760, 431, 1040, 572]];
  for (const [l, t, r, b] of boxes) ctx.strokeRect(l, t, r - l, b - t);
  const line = (x1: number, y1: number, x2: number, y2: number) => {
    ctx.beginPath(); ctx.moveTo(x1, y1); ctx.lineTo(x2, y2); ctx.stroke();
  };
  const head = (tip: number, y: number) => {
    ctx.beginPath(); ctx.moveTo(tip, y); ctx.lineTo(tip - 47, y - 12); ctx.lineTo(tip - 47, y + 12); ctx.closePath(); ctx.fill();
  };
  line(131, 382, 230, 382); head(269, 382);
  line(550, 382, 647, 382);
  ctx.lineCap = 'square';
  line(647, 263, 647, 502);
  ctx.lineCap = 'butt';
  line(647, 263, 720, 263); head(760, 263);
  line(647, 502, 720, 502); head(760, 502);
  line(1040, 263, 1195, 263); head(1234, 263);
  line(1040, 502, 1195, 502); head(1234, 502);
  ctx.restore();
}

const T = (t: string, x: number, y: number, size: number, extra: Partial<Txt> = {}): Txt => ({ t, x, y, size, ...extra });
const AL = { base: 'alphabetic' as CanvasTextBaseline };
const LETTER = (t: string, x: number, y: number, size: number): Txt => ({ t, x, y, size, align: 'left', base: 'alphabetic' });

const specA: Spec = {
  box: { x: 0, y: 0, w: 1640, h: 640 },
  area: { l: 0, t: 0, r: 1640, b: 640 },
  scales: { x: { type: 'linear', min: 0, max: 1 }, y: { type: 'linear', min: 0, max: 1 } },
  datasets: () => [],
  axes: [],
  texts: [
    LETTER('A', 200, 86, 89),
    T('Small', 897, 102, 44, AL), T('private noise', 897, 158, 44, AL),
    T('Large', 408, 222, 44, AL), T('common noise', 408, 282, 44, AL),
    T('Visual', 141, 365, 44, AL), T('input', 150, 429, 44, AL),
    T('Sensory', 410, 369, 44, AL), T('noise', 410, 424, 44, AL),
    T('Pursuit', 900, 250, 44, AL), T('noise', 900, 304, 44, AL),
    T('Perception', 900, 490, 44, AL), T('noise', 900, 545, 44, AL),
    T('Eye movement', 1247, 271, 44, { ...AL, align: 'left' }),
    T('Perception', 1247, 512, 44, { ...AL, align: 'left' }),
  ],
  draw: (ctx) => drawDiagram(ctx),
};

const specB: Spec = {
  box: { x: 1640, y: 0, w: 920, h: 660 },
  area: { l: 1878, t: 20.8, r: 2357, b: 502.2 },
  scales: { x: { type: 'linear', min: -3, max: 4 }, y: { type: 'linear', min: -3, max: 4 } },
  datasets: () => [{
    data: bColX.flatMap((x, i) => bColY[i].map((y) => ({ x, y }))),
    pointRadius: 6.5, pointBackgroundColor: '#000', pointBorderWidth: 0, clip: false,
  }],
  axes: [
    { id: 'y', side: 'left', at: 1858, from: -3, to: 4, ticks: bTicks, labels: lbl(bLabels), len: 23, labelAt: 1814 },
    { id: 'x', side: 'bottom', at: 502.2, from: -3, to: 4, ticks: bTicks, labels: lbl(bLabels), len: 23, labelAt: 559 },
  ],
  texts: [
    LETTER('B', 1876, 87, 68),
    T('Z-score of MT neuron 2', 1714, 257, 45, { rot: ROT }),
    T('Z-score of MT neuron 1', 2114, 625, 45),
  ],
};

const specC: Spec = {
  box: { x: 0, y: 690, w: 1240, h: 740 },
  area: { l: 201.6, t: 781.8, r: 801, b: 1259.4 },
  scales: { x: { type: 'linear', min: 0, max: 200 }, y: { type: 'linear', min: -1, max: 25 } },
  datasets: () => cTraces.map((tr) => ({
    data: pts(cTime, tr), showLine: true, borderColor: '#111', borderWidth: 1.8, pointRadius: 0, fill: false,
  })),
  axes: [
    { id: 'y', side: 'left', at: 181.6, from: -1, to: 25, ticks: cYTicks, labels: lbl(cYTicks), len: 20, labelAt: 146 },
    { id: 'x', side: 'bottom', at: 1280, from: 0, to: 200, ticks: cXTicks, labels: lbl(cXTicks), len: 23, labelAt: 1337 },
  ],
  texts: [
    LETTER('C', 202, 843, 80),
    T('Smooth pursuit', 499, 743, 44),
    T('Eye velocity (deg/s)', 29, 1030, 42, { rot: ROT }),
    T('Time from stimulus onset (ms)', 898, 1397, 44),
  ],
};

const specD: Spec = {
  box: { x: 930, y: 690, w: 690, h: 670 },
  area: { l: 999.5, t: 781.8, r: 1598.5, b: 1260.7 },
  scales: { x: { type: 'linear', min: -50, max: 150 }, y: { type: 'linear', min: 0, max: 25 } },
  datasets: () => [
    { data: pts(dTime, dMean), showLine: true, borderColor: '#000', borderWidth: 6, pointRadius: 0, fill: false, clip: false },
    { data: pts(dTime, dMean.map((m, i) => m + dSem[i])), showLine: true, borderWidth: 0, borderColor: 'rgba(0,0,0,0)', backgroundColor: '#838383', pointRadius: 0, fill: '+1', clip: false },
    { data: pts(dTime, dMean.map((m, i) => m - dSem[i])), showLine: true, borderWidth: 0, borderColor: 'rgba(0,0,0,0)', pointRadius: 0, fill: false, clip: false },
  ],
  axes: [
    { id: 'y', side: 'left', at: 980, from: 0, to: 25, ticks: dYTicks, labels: [], len: 23, labelAt: 0 },
    { id: 'x', side: 'bottom', at: 1280, from: -50, to: 150, ticks: dXTicks, labels: [[0, '0'], [100, '100']], len: 25, labelAt: 1338 },
  ],
  texts: [
    LETTER('D', 998, 842, 67),
    T('Vestibulo-ocular reflex', 1298, 743, 44),
  ],
};

const specE: Spec = {
  box: { x: 1640, y: 690, w: 920, h: 740 },
  area: { l: 1876.3, t: 781.8, r: 2358.4, b: 1260.2 },
  scales: { x: { type: 'linear', min: 0, max: 125 }, y: { type: 'linear', min: -0.4, max: 0.8 } },
  datasets: () => [
    { data: eRed.map(([x, y]) => ({ x, y })), pointRadius: 5.8, pointBackgroundColor: RED, pointBorderWidth: 0, clip: false },
    { data: eBlack.map(([x, y]) => ({ x, y })), pointRadius: 5.8, pointBackgroundColor: '#000', pointBorderWidth: 0, clip: false },
  ],
  axes: [
    { id: 'y', side: 'left', at: 1857, from: -0.4, to: 0.8, ticks: eYTicks, labels: eYLabels, len: 21, labelAt: 1815 },
    { id: 'x', side: 'bottom', at: 1260.2, from: 0, to: 125, ticks: eXTicks, labels: lbl(eXLabels), len: 21, labelAt: 1316 },
  ],
  texts: [
    LETTER('E', 1876, 842, 84),
    T('Correlation coefficient', 1713, 1020, 44, { rot: ROT }),
    T('Difference in PS (deg/s)', 2118, 1390, 44),
    T('p > 0.05', 2201, 796, 44, { align: 'left' }),
    T('p < 0.05', 2201, 860, 44, { align: 'left' }),
  ],
  draw: (ctx, chart, ox, oy) => {
    ctx.save();
    ctx.fillStyle = '#000';
    ctx.beginPath(); ctx.arc(2155 - ox, 796 - oy, 10, 0, Math.PI * 2); ctx.fill();
    ctx.fillStyle = RED;
    ctx.beginPath(); ctx.arc(2155 - ox, 860 - oy, 10, 0, Math.PI * 2); ctx.fill();
    ctx.restore();
  },
};

// F layout: velocity 0 at 1859.3 px, 24.57 px per deg/s; raster rows 48 px apart, bottom row centred at 2115.5 px
const F_TOP = 1515, F_BOT = 2140;
const F_ZERO = 1859.3, F_PPU = 24.57;
const F_ROW0 = 2115.5, F_ROW_STEP = 48;
const rasterDs = (spikes: number[], row: number, color: string) => ({
  data: spikes.map((t) => ({ x: t, y: row })),
  yAxisID: 'yr', pointStyle: 'line', pointRotation: 90, pointRadius: 20,
  pointBorderColor: color, pointBorderWidth: 3.6, showLine: false, clip: false,
});
const traceDs = (vals: (number | null)[], color: string) => ({
  data: pts(fTime, vals), showLine: true, borderColor: color, borderWidth: 4, pointRadius: 0, fill: false, clip: false, spanGaps: false,
});

const specF: Spec = {
  box: { x: 0, y: 1470, w: 880, h: 880 },
  area: { l: 202, t: F_TOP, r: 799.5, b: F_BOT },
  scales: {
    x: { type: 'linear', min: -200, max: 400 },
    y: { type: 'linear', min: -(F_BOT - F_ZERO) / F_PPU, max: (F_ZERO - F_TOP) / F_PPU },
    yr: { type: 'linear', axis: 'y', position: 'left', min: -(F_BOT - F_ROW0) / F_ROW_STEP, max: (F_ROW0 - F_TOP) / F_ROW_STEP },
  },
  datasets: () => [
    traceDs(fCyan, CYAN),
    traceDs(fMagenta, MAGENTA),
    traceDs(fBlue, BLUE),
    traceDs(fRed, RED),
    traceDs(fBlack, '#000'),
    rasterDs(fSpikesCyan, 4, CYAN),
    rasterDs(fSpikesMagenta, 3, MAGENTA),
    rasterDs(fSpikesBlue, 2, BLUE),
    rasterDs(fSpikesRed, 1, RED),
    rasterDs(fSpikesBlack, 0, '#000'),
  ],
  axes: [
    { id: 'x', side: 'bottom', at: 2160.7, from: -200, to: 400, ticks: fXTicks, labels: lbl(fXTicks), len: 23, labelAt: 2216, size: 42 },
    { id: 'y', side: 'left', at: 170.7, from: 0, to: 10, ticks: [0, 10], labels: [], len: 27, labelAt: 0 },
  ],
  texts: [
    LETTER('F', 198, 1602, 84),
    T('10 deg/s', 140, 1741, 43, { rot: ROT }),
    T('Eye velocity', 198, 1792, 44, { align: 'left' }),
    T('Time from target motion onset (ms)', 497, 2282, 44),
  ],
};

const specG: Spec = {
  box: { x: 840, y: 1470, w: 800, h: 880 },
  area: { l: 999.5, t: 1540, r: 1598.5, b: 2137 },
  scales: {
    x: { type: 'logarithmic', min: 6.25 / Math.SQRT2, max: 3200 },
    y: { type: 'linear', min: -0.4, max: 0.4 },
  },
  datasets: () => [
    { data: gOpen.map(([x, y]) => ({ x, y })), pointRadius: 11, pointBackgroundColor: '#fff', pointBorderColor: '#000', pointBorderWidth: 3.5, clip: false },
    { data: gFilled.map(([x, y]) => ({ x, y })), pointRadius: 7, pointBackgroundColor: '#000', pointBorderWidth: 0, clip: false },
  ],
  axes: [
    { id: 'y', side: 'left', at: 980, from: -0.4, to: 0.4, ticks: gYTicks, labels: lbl(gYTicks), len: 23, labelAt: 926 },
    { id: 'x', side: 'bottom', at: 2160, from: 6.25 / Math.SQRT2, to: 3200, ticks: gXTicks, labels: gXLabels, len: 23, labelAt: 2213.5 },
  ],
  texts: [
    LETTER('G', 998, 1600, 78),
    T('MT-pursuit correlation', 1024, 1841, 42, { rot: ROT }),
    T('Target speed as a percentage', 1295, 2263, 44),
    T('of preferred speed', 1295, 2316, 44),
  ],
};

const specH: Spec = {
  box: { x: 1640, y: 1470, w: 920, h: 880 },
  area: { l: 1878, t: 1540, r: 2357, b: 2137 },
  scales: {
    x: { type: 'linear', min: 0, max: 1 },
    y: { type: 'linear', min: 0, max: 1 },
    y2: { type: 'linear', axis: 'y', position: 'right', min: 0, max: 1 },
  },
  datasets: () => [
    { data: pts(hNoise, hVariation), yAxisID: 'y2', showLine: true, borderColor: '#ee0000', borderWidth: 3, pointRadius: 0, fill: false, clip: false },
    { data: pts(hNoise, hCorrelation), showLine: true, borderColor: '#000', borderWidth: 3, pointRadius: 0, fill: false, clip: false },
  ],
  axes: [
    { id: 'y', side: 'left', at: 1857, from: 0, to: 1, ticks: hYTicks, labels: lbl(hYTicks), len: 23, labelAt: 1813 },
    { id: 'y2', side: 'right', at: 2378.4, from: 0, to: 1, ticks: hYTicks, labels: lbl(hYTicks), len: 23, labelAt: 2413, color: '#ee0000' },
    { id: 'x', side: 'bottom', at: 2160, from: 0, to: 1, ticks: hXTicks, labels: lbl(hXTicks), len: 23, labelAt: 2213.5 },
  ],
  texts: [
    LETTER('H', 1876, 1602, 84),
    T('Neuron-behavior correlation', 1714, 1838, 44, { rot: ROT }),
    T('Behavioral variation (a.u.)', 2521, 1838, 44, { rot: ROT, color: '#ee0000' }),
    T('Downstream noise (a.u.)', 2117, 2282, 44),
  ],
};

const SPECS = [specA, specB, specC, specD, specE, specF, specG, specH];

export default function App() {
  return (
    <div style={{ position: 'absolute', left: 0, top: 0, width: 2560, height: 2350, background: '#fff', overflow: 'hidden' }}>
      {SPECS.map((s, i) => (
        <Panel key={i} spec={s} />
      ))}
    </div>
  );
}
